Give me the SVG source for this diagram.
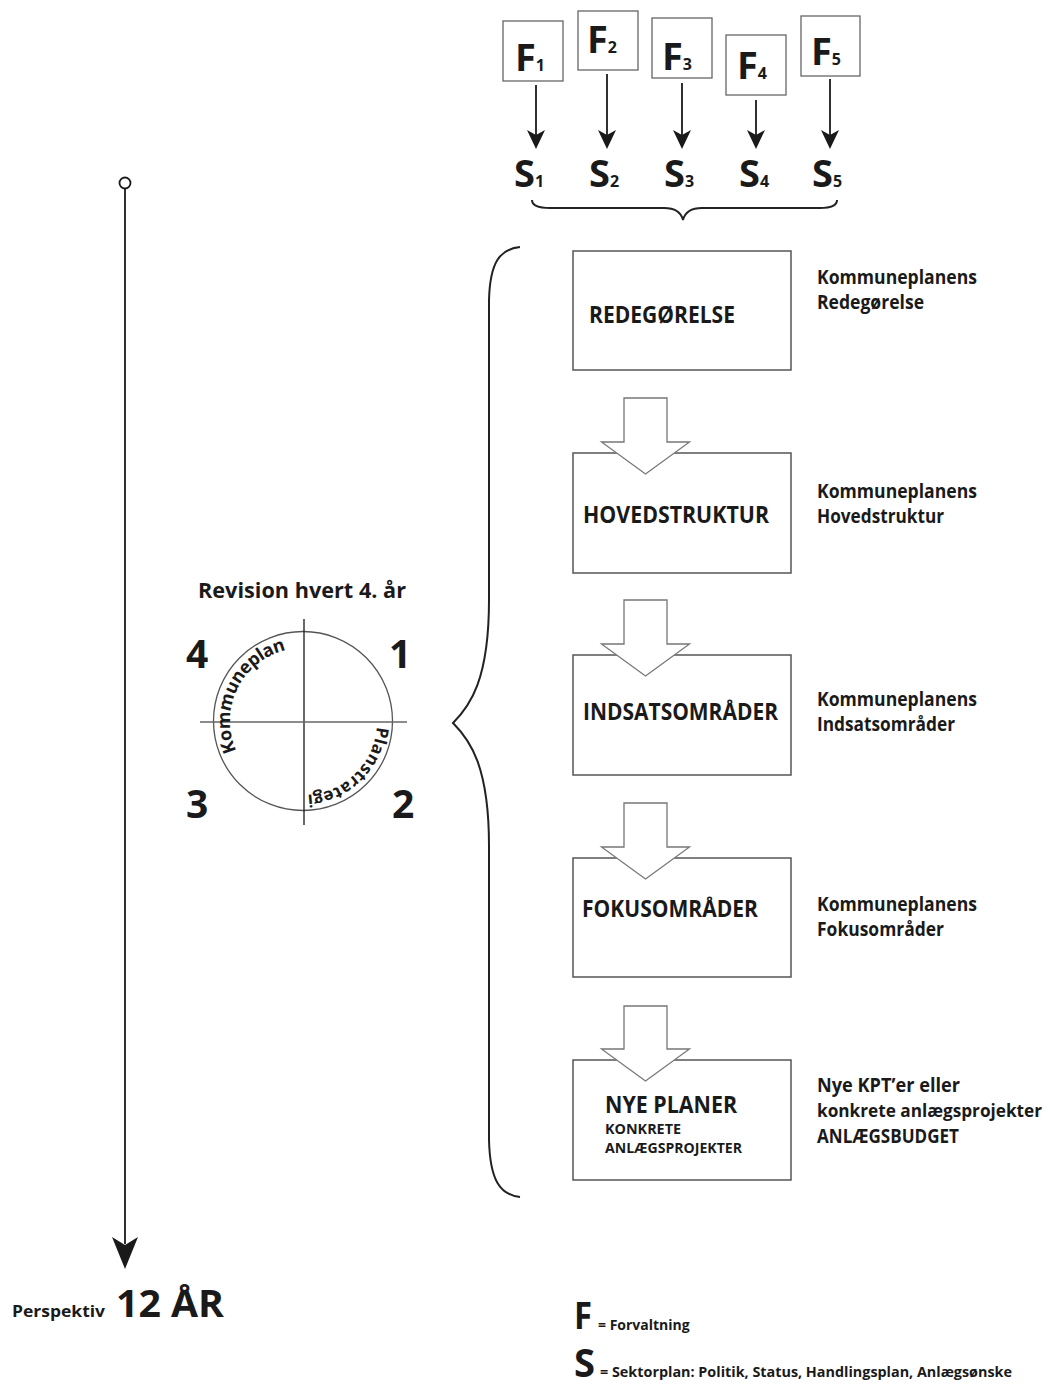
<svg xmlns="http://www.w3.org/2000/svg" width="1050" height="1387" viewBox="0 0 1050 1387">
<style>
text{font-family:"Open Sans","DejaVu Sans",sans-serif;font-weight:700;fill:#1a1a1a}
.fbox{fill:#fff;stroke:#666;stroke-width:1.3}
.box{fill:#fff;stroke:#555;stroke-width:1.5}
.harrow{fill:#fff;stroke:#777;stroke-width:1.3;stroke-linejoin:miter}
.line{stroke:#1a1a1a;stroke-width:1.8;fill:none}
.brace{stroke:#222;stroke-width:2;fill:none}
.head{fill:#1a1a1a}
.big{font-size:38px}
.sub{font-size:16px}
.bt{font-size:23px}
.lbl{font-size:19px}
.num{font-size:39px}
</style>
<defs>
<path id="arcK" d="M236.3,750.7 A73,73 0 0 1 296.6,648.3"/>
<path id="arcP" d="M376.8,726.8 A74,74 0 0 1 296.5,794.7"/>
</defs>

<g id="connectors">
  <line class="line" x1="536" y1="85" x2="536" y2="140"/>
  <path class="head" d="M536,149 L527,130 L536,135 L545,130 Z"/>
  <line class="line" x1="607" y1="74" x2="607" y2="140"/>
  <path class="head" d="M607,149 L598,130 L607,135 L616,130 Z"/>
  <line class="line" x1="682" y1="83" x2="682" y2="140"/>
  <path class="head" d="M682,149 L673,130 L682,135 L691,130 Z"/>
  <line class="line" x1="756" y1="100" x2="756" y2="140"/>
  <path class="head" d="M756,149 L747,130 L756,135 L765,130 Z"/>
  <line class="line" x1="830" y1="79" x2="830" y2="140"/>
  <path class="head" d="M830,149 L821,130 L830,135 L839,130 Z"/>
  <path class="brace" d="M532,200 C532,206 538,208 550,208 L664,208 C675,208 681,212 683,220 C685,212 691,208 702,208 L820,208 C831,208 837,206 837,200"/>
  <path class="brace" d="M520,247 C500,249 490,262 489,300 L489,600 C489,680 470,706 453,723 C470,740 489,766 489,846 L489,1140 C490,1180 500,1195 520,1197"/>
  <circle cx="125" cy="183" r="5.5" fill="#fff" stroke="#1a1a1a" stroke-width="1.8"/>
  <line class="line" x1="125" y1="188.5" x2="125" y2="1244"/>
  <path class="head" d="M125,1269 L112,1237 L125,1245 L138,1237 Z"/>
</g>

<g id="f-boxes">
  <g id="F1"><rect class="fbox" x="503" y="21" width="60" height="60"/><text x="515" y="71" class="big">F<tspan class="sub">1</tspan></text></g>
  <g id="F2"><rect class="fbox" x="578" y="11" width="60" height="59"/><text x="587" y="53" class="big">F<tspan class="sub">2</tspan></text></g>
  <g id="F3"><rect class="fbox" x="652" y="18" width="60" height="60"/><text x="662" y="70" class="big">F<tspan class="sub">3</tspan></text></g>
  <g id="F4"><rect class="fbox" x="726" y="35" width="60" height="60"/><text x="737" y="79" class="big">F<tspan class="sub">4</tspan></text></g>
  <g id="F5"><rect class="fbox" x="801" y="16" width="59" height="60"/><text x="811" y="65" class="big">F<tspan class="sub">5</tspan></text></g>
</g>

<g id="s-labels">
  <text x="514" y="187" class="big">S<tspan class="sub">1</tspan></text>
  <text x="589" y="187" class="big">S<tspan class="sub">2</tspan></text>
  <text x="664" y="187" class="big">S<tspan class="sub">3</tspan></text>
  <text x="739" y="187" class="big">S<tspan class="sub">4</tspan></text>
  <text x="812" y="187" class="big">S<tspan class="sub">5</tspan></text>
</g>

<g id="redegorelse">
  <rect class="box" x="573" y="251" width="218" height="119"/>
  <text x="589" y="323" class="bt" textLength="146" lengthAdjust="spacingAndGlyphs">REDEGØRELSE</text>
  <text x="817" y="284" class="lbl" textLength="160" lengthAdjust="spacingAndGlyphs">Kommuneplanens</text>
  <text x="817" y="309" class="lbl" textLength="107" lengthAdjust="spacingAndGlyphs">Redegørelse</text>
</g>

<g id="hovedstruktur">
  <rect class="box" x="573" y="453" width="218" height="120"/>
  <path class="harrow" d="M624,398 L667,398 L667,442 L689.5,442 L645.5,474 L601.5,442 L624,442 Z"/>
  <text x="583" y="523" class="bt" textLength="186" lengthAdjust="spacingAndGlyphs">HOVEDSTRUKTUR</text>
  <text x="817" y="498" class="lbl" textLength="160" lengthAdjust="spacingAndGlyphs">Kommuneplanens</text>
  <text x="817" y="523" class="lbl" textLength="127" lengthAdjust="spacingAndGlyphs">Hovedstruktur</text>
</g>

<g id="indsatsomrader">
  <rect class="box" x="573" y="655" width="218" height="120"/>
  <path class="harrow" d="M624,600 L667,600 L667,644 L689.5,644 L645.5,676 L601.5,644 L624,644 Z"/>
  <text x="583" y="720" class="bt" textLength="195" lengthAdjust="spacingAndGlyphs">INDSATSOMRÅDER</text>
  <text x="817" y="706" class="lbl" textLength="160" lengthAdjust="spacingAndGlyphs">Kommuneplanens</text>
  <text x="817" y="731" class="lbl" textLength="138" lengthAdjust="spacingAndGlyphs">Indsatsområder</text>
</g>

<g id="fokusomrader">
  <rect class="box" x="573" y="858" width="218" height="119"/>
  <path class="harrow" d="M624,803 L667,803 L667,847 L689.5,847 L645.5,879 L601.5,847 L624,847 Z"/>
  <text x="582" y="917" class="bt" textLength="176" lengthAdjust="spacingAndGlyphs">FOKUSOMRÅDER</text>
  <text x="817" y="911" class="lbl" textLength="160" lengthAdjust="spacingAndGlyphs">Kommuneplanens</text>
  <text x="817" y="936" class="lbl" textLength="127" lengthAdjust="spacingAndGlyphs">Fokusområder</text>
</g>

<g id="nye-planer">
  <rect class="box" x="573" y="1060" width="218" height="120"/>
  <path class="harrow" d="M624,1006 L667,1006 L667,1049 L689.5,1049 L645.5,1081 L601.5,1049 L624,1049 Z"/>
  <text x="605" y="1113" class="bt" textLength="132" lengthAdjust="spacingAndGlyphs">NYE PLANER</text>
  <text x="605" y="1134" font-size="14" textLength="76" lengthAdjust="spacingAndGlyphs">KONKRETE</text>
  <text x="605" y="1153" font-size="14" textLength="137" lengthAdjust="spacingAndGlyphs">ANLÆGSPROJEKTER</text>
  <text x="817" y="1092" class="lbl" textLength="143" lengthAdjust="spacingAndGlyphs">Nye KPT’er eller</text>
  <text x="817" y="1117" font-size="18" textLength="225" lengthAdjust="spacingAndGlyphs">konkrete anlægsprojekter</text>
  <text x="817" y="1143" class="lbl" textLength="142" lengthAdjust="spacingAndGlyphs">ANLÆGSBUDGET</text>
</g>

<g id="revision">
  <text x="198" y="598" font-size="21" textLength="208" lengthAdjust="spacingAndGlyphs">Revision hvert 4. år</text>
  <circle cx="303" cy="721" r="89.5" fill="none" stroke="#555" stroke-width="1.3"/>
  <line x1="304" y1="619" x2="304" y2="825" stroke="#1a1a1a" stroke-width="1.3"/>
  <line x1="200" y1="722" x2="407" y2="722" stroke="#666" stroke-width="1.3"/>
  <text font-size="18"><textPath href="#arcK" textLength="128" lengthAdjust="spacing">Kommuneplan</textPath></text>
  <text font-size="17"><textPath href="#arcP" textLength="106" lengthAdjust="spacing">Planstrategi</textPath></text>
  <text x="186" y="668" class="num">4</text>
  <text x="389" y="668" class="num">1</text>
  <text x="186" y="818" class="num">3</text>
  <text x="392" y="818" class="num">2</text>
</g>

<g id="perspektiv">
  <text x="12" y="1317" font-size="16" textLength="93" lengthAdjust="spacingAndGlyphs">Perspektiv</text>
  <text x="116" y="1317" font-size="38" textLength="108" lengthAdjust="spacingAndGlyphs">12 ÅR</text>
</g>

<g id="legend">
  <text x="574" y="1329" font-size="38" textLength="18" lengthAdjust="spacingAndGlyphs">F</text>
  <text x="598" y="1330" font-size="14">= Forvaltning</text>
  <text x="574" y="1377" font-size="40" textLength="21" lengthAdjust="spacingAndGlyphs">S</text>
  <text x="600" y="1377" font-size="14" textLength="412" lengthAdjust="spacingAndGlyphs">= Sektorplan: Politik, Status, Handlingsplan, Anlægsønske</text>
</g>
</svg>
